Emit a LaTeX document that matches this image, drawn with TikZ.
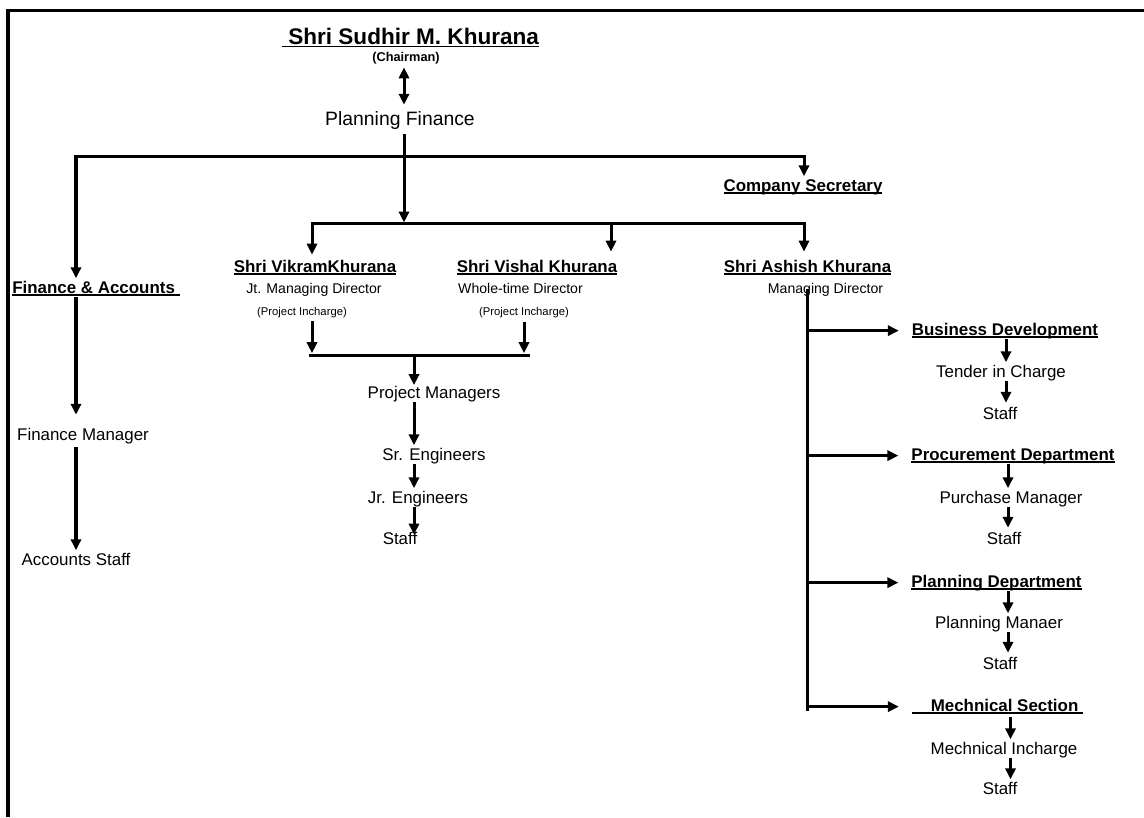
\documentclass[tikz,border=0pt]{standalone}
\usepackage{fontspec}
\setmainfont{Liberation Sans}
\usetikzlibrary{arrows.meta}
\newcommand{\ulbox}[1]{\setbox0=\hbox{#1}\rlap{\rule[-0.15em]{\wd0}{0.075em}}\box0}

\begin{document}
\begin{tikzpicture}[x=0.532pt,y=-0.532pt,
  link/.style={black,line width=1.6pt,line cap=rect},
  arr/.style={link,-{Triangle[length=5.8pt,width=5.4pt]},shorten <=0.5pt,shorten >=1pt},
  body/.style={anchor=base,font=\fontsize{9}{11}\selectfont,text height=6.66pt,text depth=2pt},
  head/.style={body,font=\fontsize{9}{11}\selectfont\bfseries},
  role/.style={anchor=base,font=\fontsize{7.5}{9}\selectfont,text height=5.55pt,text depth=1.65pt},
  note/.style={anchor=base,font=\fontsize{6}{7}\selectfont,text height=4.44pt,text depth=1.32pt}]
\tikzstyle{every node}+=[inner sep=0pt]
\useasboundingbox (0,0) rectangle (1144,817);
\draw [black,line width=1.75pt] (8,817) -- (8,10.5) -- (1150,10.5);

\node [anchor=base,font=\fontsize{12}{14}\selectfont\bfseries,text height=8.9pt,text depth=2.6pt] (sudhir) at (410.5,44) {\ulbox{\ Shri Sudhir M. Khurana}};
\node [anchor=base,font=\fontsize{6.8}{8}\selectfont\bfseries,text height=5pt,text depth=1.5pt] (chairman) at (406,61) {(Chairman)};
\node [anchor=base,font=\fontsize{10.3}{12}\selectfont,text height=7.6pt,text depth=2.3pt] (planfin) at (400,125) {Planning Finance};
\node [head] (compsec) at (803,191) {\ulbox{Company Secretary}};
\node [head] (finacc) at (96,293) {\ulbox{Finance \& Accounts\ }};
\node [body] (finmgr) at (83,440) {Finance Manager};
\node [body] (accstaff) at (76,565) {Accounts Staff};
\node [head] (vikram) at (315,272) {\ulbox{Shri VikramKhurana}};
\node [role] (jtmd) at (314,293) {Jt. Managing Director};
\node [note] (vikraminc) at (302,315) {(Project Incharge)};
\node [head] (vishal) at (537,272) {\ulbox{Shri Vishal Khurana}};
\node [role] (wtd) at (520.5,293) {Whole-time Director};
\node [note] (vishalinc) at (524,315) {(Project Incharge)};
\node [head] (ashish) at (807.5,272) {\ulbox{Shri Ashish Khurana}};
\node [role] (mdir) at (825.5,293) {Managing Director};
\node [body] (projmgr) at (434,398) {Project Managers};
\node [body] (sreng) at (434,460) {Sr. Engineers};
\node [body] (jreng) at (418,503) {Jr. Engineers};
\node [body] (pmstaff) at (400,544) {Staff};
\node [head] (busdev) at (1005,335) {\ulbox{Business Development}};
\node [body] (tender) at (1001,377) {Tender in Charge};
\node [body] (bdstaff) at (1000,419) {Staff};
\node [head] (procure) at (1013,460) {\ulbox{Procurement Department}};
\node [body] (purchase) at (1011,503) {Purchase Manager};
\node [body] (prstaff) at (1004,544) {Staff};
\node [head] (plandept) at (996.5,587) {\ulbox{Planning Department}};
\node [body] (planmgr) at (999,628) {Planning Manaer};
\node [body] (plstaff) at (1000,669) {Staff};
\node [head] (mechsec) at (997.5,711) {\ulbox{\ \ \ \ Mechnical Section\ }};
\node [body] (mechinc) at (1004,754) {Mechnical Incharge};
\node [body] (mcstaff) at (1000,794) {Staff};

\coordinate (jA) at (76,156);
\coordinate (jB) at (804,156);
\coordinate (jC) at (312,223);
\coordinate (jD) at (804,223);
\coordinate (jE) at (404,223);
\coordinate (jF) at (611,223);
\coordinate (jG) at (310,355);
\coordinate (jH) at (528,355);
\coordinate (jK) at (414,355);
\coordinate (rTop) at (807,290);
\coordinate (rBot) at (807,709);
\coordinate (cBD) at (1006,0);
\coordinate (cPD) at (1008,0);
\coordinate (cPL) at (1008,0);
\coordinate (cMS) at (1010.5,0);

\draw [link,{Triangle[length=5.8pt,width=5.4pt]}-{Triangle[length=5.8pt,width=5.4pt]},shorten <=1.7pt,shorten >=3pt] (chairman.south -| jE) -- (planfin.north -| jE);
\draw [arr,shorten <=3pt,shorten >=0.3pt] (planfin.south -| jE) -- (jE);
\draw [arr] (jB) -- (jA) -- (finacc.north -| jA);
\draw [arr,shorten <=0pt] (jB) -- (compsec.north -| jB);
\draw [arr,shorten >=6.6pt] (finacc.south -| jA) -- (finmgr.north -| jA);
\draw [arr,shorten <=2.2pt] (finmgr.south -| jA) -- (accstaff.north -| jA);

\draw [arr,shorten >=2.4pt] (jD) -- (jC) -- (vikram.north -| jC);
\draw [arr,shorten <=0pt,shorten >=4pt] (jF) -- (vishal.north -| jF);
\draw [arr,shorten <=0pt,shorten >=4pt] (jD) -- (ashish.north -| jD);
\draw [link] (jG) -- (jH);
\draw [arr,shorten <=2.4pt] (vikraminc.south -| jC) -- (jC |- jG);
\draw [arr,shorten <=3pt] (vishalinc.south) -- (vishalinc.south |- jG);
\draw [arr,shorten <=0pt,shorten >=0pt] (jK) -- (projmgr.north -| jK);
\draw [arr] (projmgr.south -| jK) -- (sreng.north -| jK);
\draw [arr] (sreng.south -| jK) -- (jreng.north -| jK);
\draw [arr,shorten >=-1.8pt] (jreng.south -| jK) -- (pmstaff.north -| jK);

\draw [link,shorten <=-3.2pt] (mdir.south -| rTop) -- (rBot);
\draw [arr,shorten >=6.8pt] (busdev.west -| rTop) -- (busdev.west);
\draw [arr,shorten >=6.8pt] (procure.west -| rTop) -- (procure.west);
\draw [arr,shorten >=6.8pt] (plandept.west -| rTop) -- (plandept.west);
\draw [arr,shorten >=6.8pt] (mechsec.west -| rTop) -- (mechsec.west);
\draw [arr] (busdev.south -| cBD) -- (tender.north -| cBD);
\draw [arr,shorten >=1.8pt] (tender.south -| cBD) -- (bdstaff.north -| cBD);
\draw [arr] (procure.south -| cPD) -- (purchase.north -| cPD);
\draw [arr,shorten >=1.8pt] (purchase.south -| cPD) -- (prstaff.north -| cPD);
\draw [arr] (plandept.south -| cPL) -- (planmgr.north -| cPL);
\draw [arr,shorten >=1.8pt] (planmgr.south -| cPL) -- (plstaff.north -| cPL);
\draw [arr,shorten <=1.6pt] (mechsec.south -| cMS) -- (mechinc.north -| cMS);
\draw [arr] (mechinc.south -| cMS) -- (mcstaff.north -| cMS);
\end{tikzpicture}
\end{document}
